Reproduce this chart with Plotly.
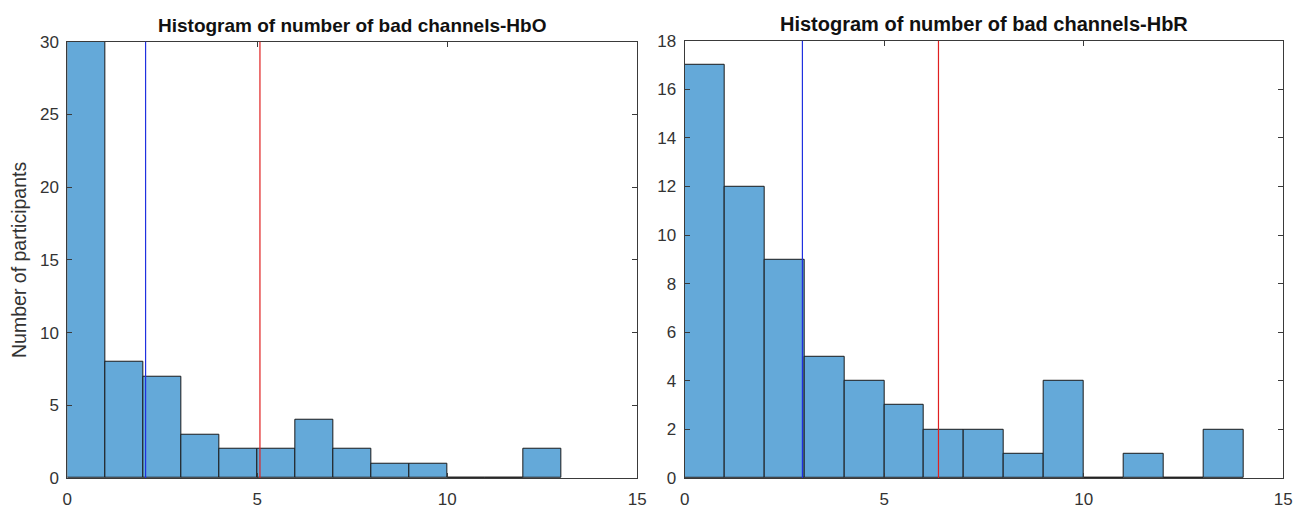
import plotly.graph_objects as go

# ---- data ----
bin_edges_hbo = [0, 1, 2, 3, 4, 5, 6, 7, 8, 9, 10, 11, 12]
counts_hbo = [30, 8, 7, 3, 2, 2, 4, 2, 1, 1, 0, 0, 2]
mean_hbo = 2.06
thresh_hbo = 5.07

bin_edges_hbr = [0, 1, 2, 3, 4, 5, 6, 7, 8, 9, 10, 11, 12, 13]
counts_hbr = [17, 12, 9, 5, 4, 3, 2, 2, 1, 4, 0, 1, 0, 2]
mean_hbr = 2.95
thresh_hbr = 6.36

title_hbo = "Histogram of number of bad channels-HbO"
title_hbr = "Histogram of number of bad channels-HbR"
ylabel = "Number of participants"
x_ticks = [0, 5, 10, 15]
y_ticks_hbo = [0, 5, 10, 15, 20, 25, 30]
y_ticks_hbr = [0, 2, 4, 6, 8, 10, 12, 14, 16, 18]

W, H = 1315, 516
BAR_COLOR = "#64a9d9"
EDGE = "#1a1a1a"
AX = "#3a3a3a"
FONT = "Liberation Sans, Arial, sans-serif"

fig = go.Figure()
fig.add_trace(go.Bar(x=bin_edges_hbo, y=counts_hbo, width=1, offset=0,
                     marker=dict(color=BAR_COLOR, line=dict(color=EDGE, width=1)),
                     xaxis="x", yaxis="y", showlegend=False))
fig.add_trace(go.Bar(x=bin_edges_hbr, y=counts_hbr, width=1, offset=0,
                     marker=dict(color=BAR_COLOR, line=dict(color=EDGE, width=1)),
                     xaxis="x2", yaxis="y2", showlegend=False))

def px_x(p):
    return p / W

def px_y(p):
    return 1 - p / H

common_axis = dict(showgrid=False, zeroline=False, showline=True, linecolor=AX,
                   linewidth=1, mirror="ticks", ticks="inside", ticklen=5,
                   tickcolor=AX, tickfont=dict(family=FONT, size=17, color="#333333"))

fig.update_layout(
    width=W, height=H,
    margin=dict(l=0, r=0, t=0, b=0),
    paper_bgcolor="white", plot_bgcolor="white",
    bargap=0,
    xaxis=dict(domain=[px_x(63), px_x(639)], range=[0, 15], tickvals=x_ticks,
               anchor="y", ticklabelstandoff=6, **common_axis),
    yaxis=dict(domain=[px_y(487), px_y(34)], range=[0, 30], tickvals=y_ticks_hbo,
               anchor="x", ticklabelstandoff=4,
               title=dict(text=ylabel, font=dict(family=FONT, size=19.5, color="#333333"),
                          standoff=8),
               **common_axis),
    xaxis2=dict(domain=[px_x(687), px_x(1292)], range=[0, 15], tickvals=x_ticks,
                anchor="y2", ticklabelstandoff=6, **common_axis),
    yaxis2=dict(domain=[px_y(487), px_y(33)], range=[0, 18], tickvals=y_ticks_hbr,
                anchor="x2", ticklabelstandoff=4, **common_axis),
)

for xv, xr, yr, col in [(mean_hbo, "x", "y", "#2030e0"), (thresh_hbo, "x", "y", "#e02020"),
                        (mean_hbr, "x2", "y2", "#2030e0"), (thresh_hbr, "x2", "y2", "#e02020")]:
    fig.add_shape(type="line", xref=xr, yref=yr + " domain", x0=xv, x1=xv, y0=0, y1=1,
                  line=dict(color=col, width=1.2), layer="above")

fig.add_annotation(text="<b>" + title_hbo + "</b>", xref="paper", yref="paper",
                   x=px_x(351), y=px_y(17), xanchor="center", yanchor="middle",
                   showarrow=False, font=dict(family=FONT, size=19, color="#111111"))
fig.add_annotation(text="<b>" + title_hbr + "</b>", xref="paper", yref="paper",
                   x=px_x(989.5), y=px_y(16), xanchor="center", yanchor="middle",
                   showarrow=False, font=dict(family=FONT, size=20, color="#111111"))

fig.write_html("out.html")
